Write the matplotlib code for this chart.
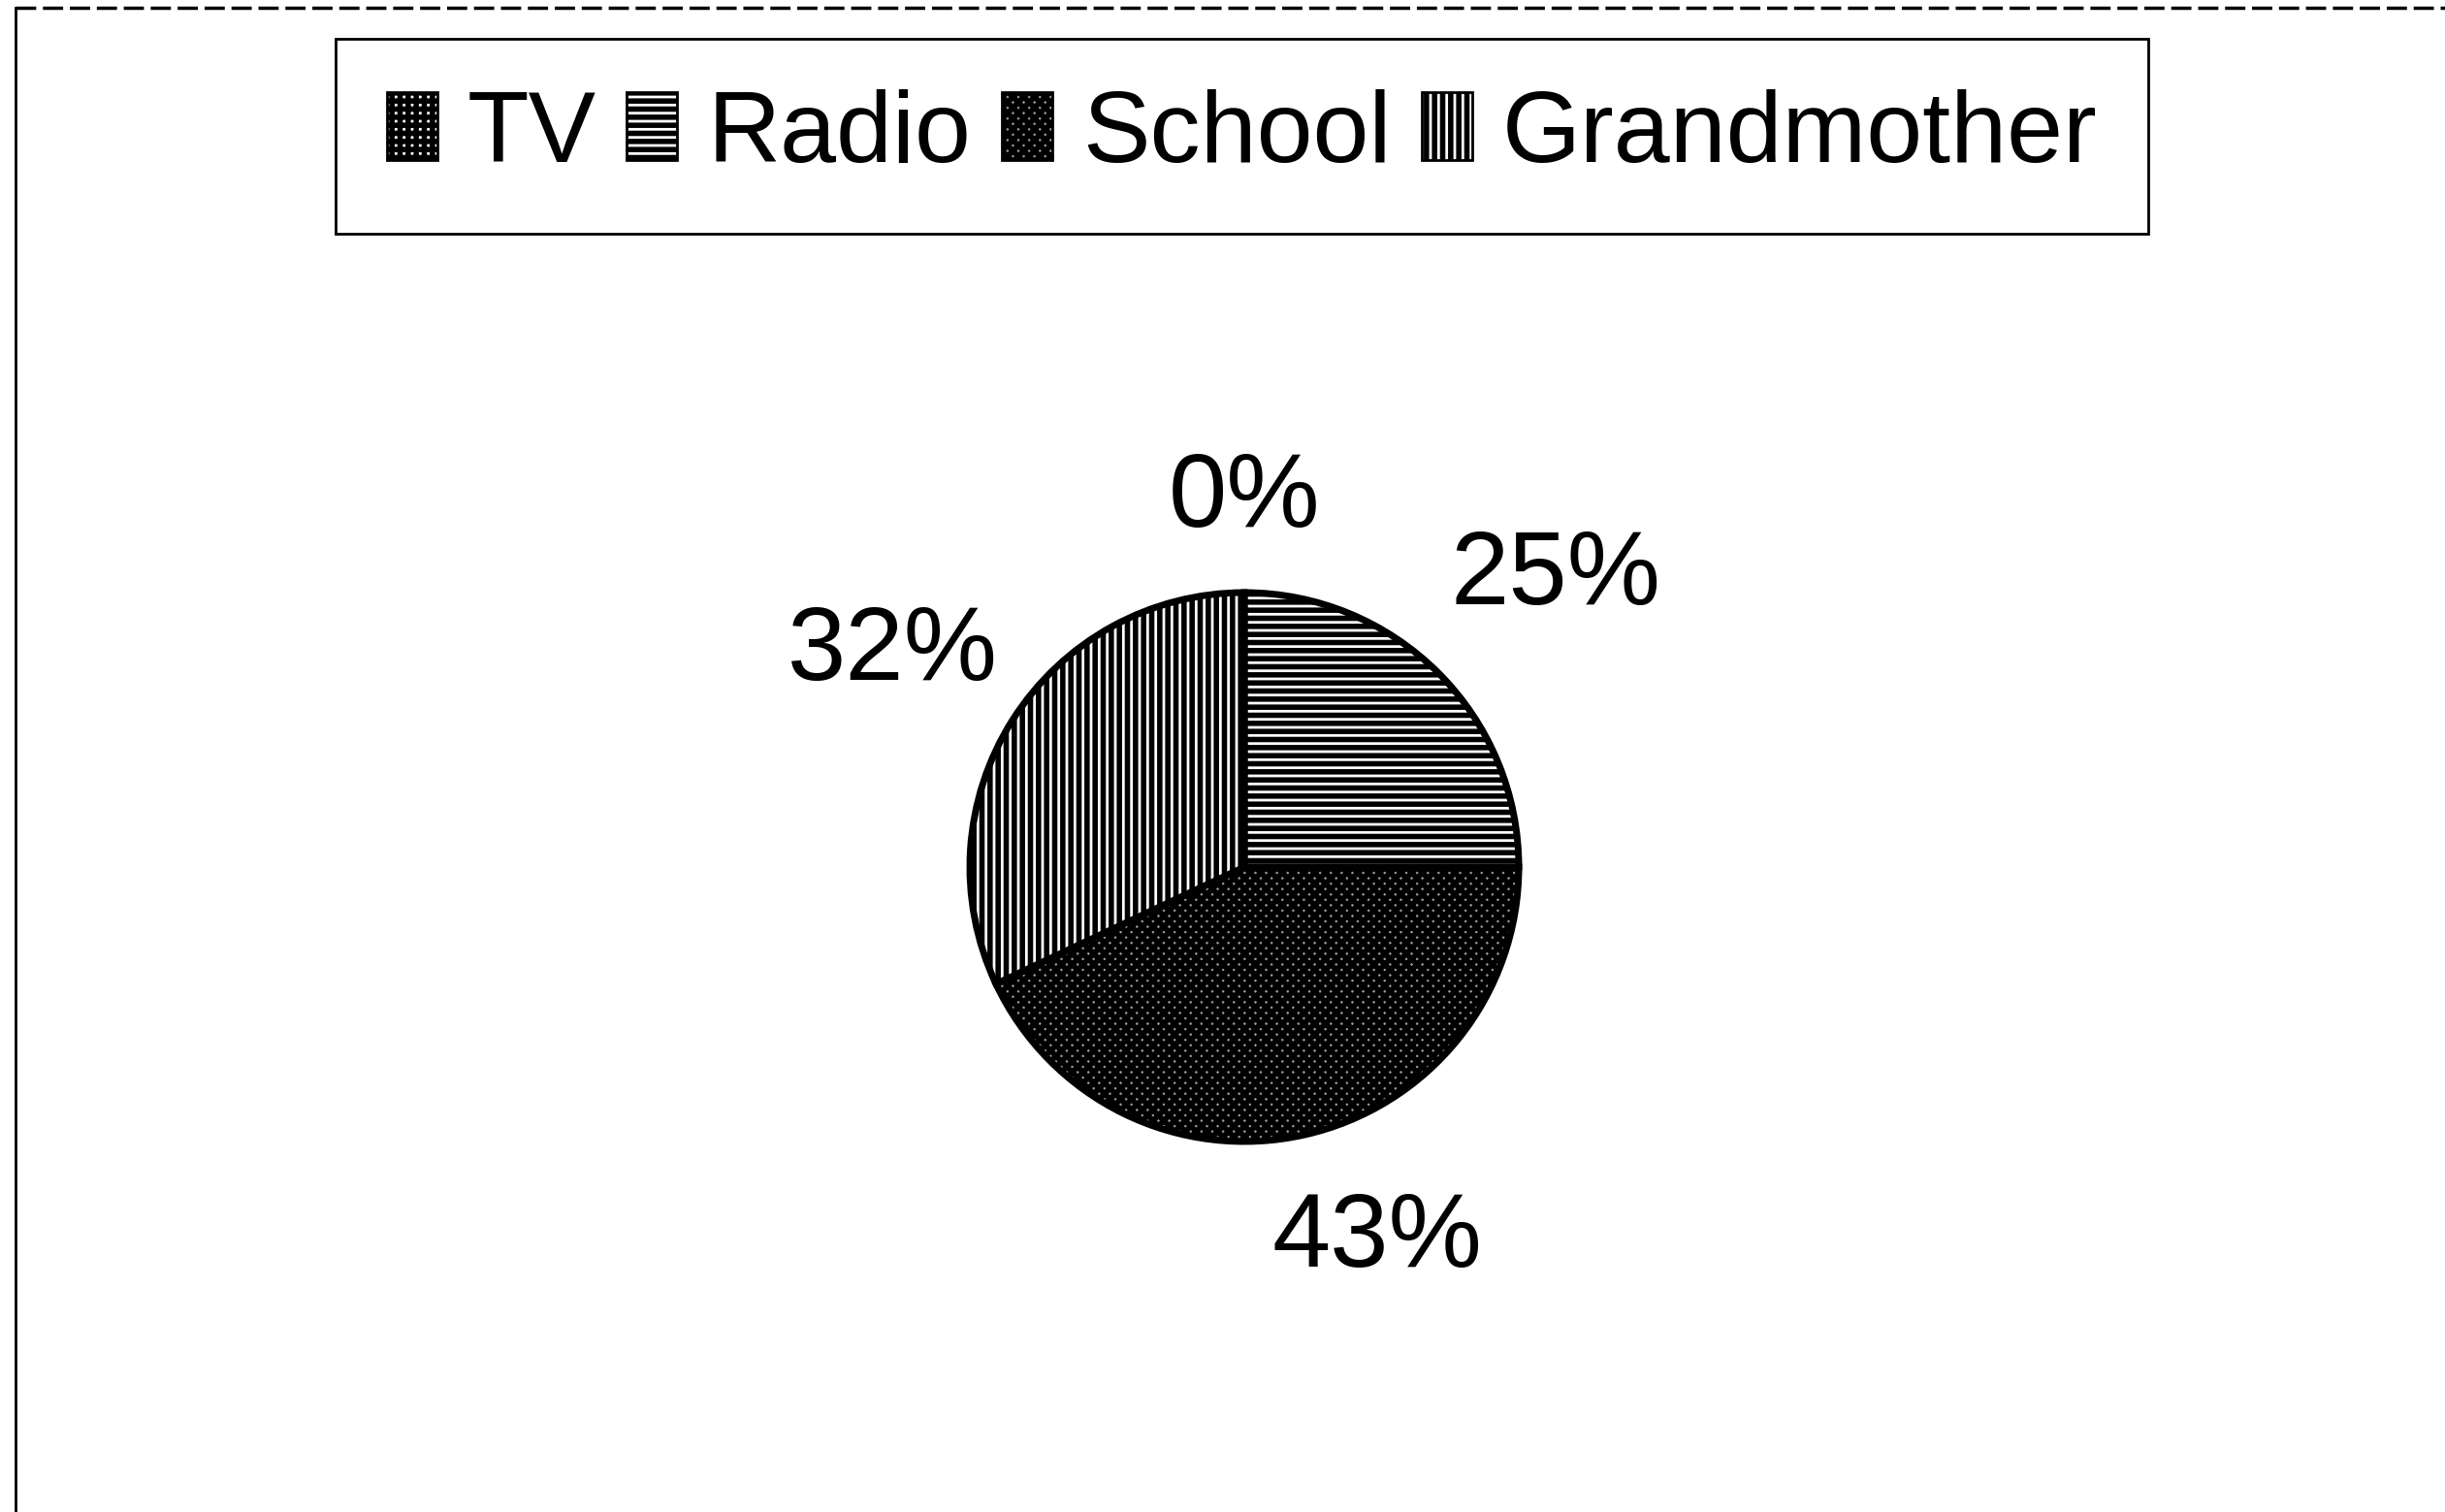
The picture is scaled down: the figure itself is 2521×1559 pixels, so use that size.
import matplotlib
matplotlib.use("Agg")
import matplotlib.pyplot as plt
import numpy as np
from matplotlib.patches import Patch
from matplotlib.lines import Line2D

plt.rcParams['font.family'] = ['Liberation Sans', 'DejaVu Sans']
plt.rcParams['hatch.linewidth'] = 4.0
plt.rcParams['hatch.color'] = 'black'

# data
categories = ['TV', 'Radio', 'School', 'Grandmother']
shares = [0, 25, 43, 32]

# grayscale fills / hatches per slice
faces = ['white', 'white', '#999999', 'white']
hatches = ['++', '--', 'xxx', '||']

W, H = 2521, 1559
fig = plt.figure(figsize=(W / 100, H / 100), dpi=100)
fig.patch.set_facecolor('white')

# pie axes: centre (1283, 894) px, radius ~283 px
R = 283
cx, cy = 1283, H - 894
span = 1.5 * R
ax = fig.add_axes([(cx - span) / W, (cy - span) / H, 2 * span / W, 2 * span / H])

wedges, texts, autotexts = ax.pie(
    shares, startangle=90, counterclock=False,
    autopct='%.0f%%', pctdistance=1.45,
    wedgeprops=dict(edgecolor='black', linewidth=5),
    textprops=dict(fontsize=78, color='black'))
for w, fc, h in zip(wedges, faces, hatches):
    w.set_facecolor(fc)
    w.set_hatch(h)

# nudge labels the way the original chart places them
dist = [1.34, 1.55, 1.44, 1.50]
turn = [0, -2, 7, 1]
for w, t, d, a in zip(wedges, autotexts, dist, turn):
    mid = np.deg2rad((w.theta1 + w.theta2) / 2 + a)
    t.set_position((d * np.cos(mid), d * np.sin(mid)))

ax.set_xlim(-1.5, 1.5)
ax.set_ylim(-1.5, 1.5)
ax.set_aspect('equal')
ax.axis('off')

# legend
handles = [Patch(facecolor=fc, edgecolor='black', hatch=h, linewidth=2)
           for fc, h in zip(faces, hatches)]
leg = fig.legend(handles, categories, ncol=4, loc='center',
                 bbox_to_anchor=(0.508, 0.910), fontsize=75,
                 handlelength=0.5, handleheight=0.65, handletextpad=0.3,
                 columnspacing=0.3, borderpad=0.5, fancybox=False,
                 frameon=True, framealpha=1)
leg.get_frame().set_edgecolor('black')
leg.get_frame().set_linewidth(2)

# outer frame lines (left and top)
fig.add_artist(Line2D([16 / W, 16 / W], [0, 1 - 8 / H], color='black', lw=2))
fig.add_artist(Line2D([16 / W, 1], [1 - 8 / H, 1 - 8 / H], color='black', lw=2.5,
                      linestyle=(0, (6, 2))))

fig.savefig('out.png', dpi=100)
